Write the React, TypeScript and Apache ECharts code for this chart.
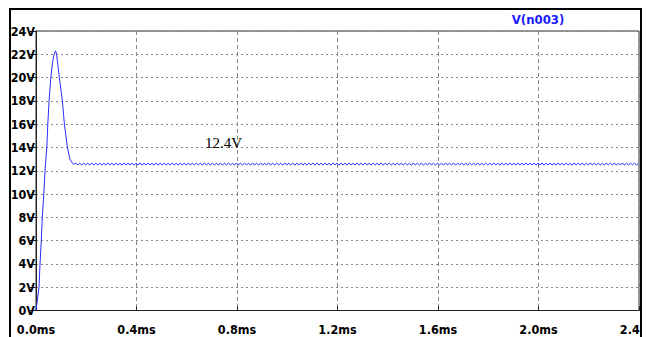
import React, { useEffect, useRef } from "react";
import * as echarts from "echarts";

// Transient: time (ms) and voltage (V)
const riseTimes = [0, 0.012, 0.016, 0.021, 0.025, 0.031, 0.036, 0.043, 0.047, 0.052, 0.059, 0.066, 0.072, 0.078];
const riseValues = [0, 2, 4, 6, 8, 10, 12, 14, 16, 18, 20, 21.3, 22, 22.3];
const fallTimes = [0.082, 0.093, 0.105, 0.113, 0.125, 0.135, 0.142, 0.15];
const fallValues = [22, 20, 18, 16, 14, 13, 12.75, 12.55];
// steady-state ripple samples, every 0.008 ms starting at 0.158 ms
const rippleStart = 0.158;
const rippleStep = 0.008;
const rippleValues = [
  12.67, 12.49, 12.65, 12.48, 12.66, 12.5, 12.64, 12.48, 12.67, 12.49, 12.65, 12.49, 12.66, 12.48, 12.64, 12.5, 12.67, 12.49, 12.65, 12.48,
  12.66, 12.49, 12.64, 12.48, 12.67, 12.49, 12.65, 12.5, 12.66, 12.47, 12.65, 12.49, 12.67, 12.48, 12.64, 12.49, 12.66, 12.5, 12.65, 12.48,
  12.67, 12.48, 12.65, 12.49, 12.66, 12.49, 12.64, 12.48, 12.67, 12.5, 12.65, 12.47, 12.66, 12.49, 12.65, 12.48, 12.67, 12.49, 12.64, 12.5,
  12.66, 12.49, 12.65, 12.48, 12.67, 12.5, 12.64, 12.49, 12.66, 12.48, 12.65, 12.49, 12.67, 12.47, 12.65, 12.5, 12.66, 12.49, 12.64, 12.48,
  12.67, 12.49, 12.65, 12.48, 12.66, 12.5, 12.64, 12.47, 12.67, 12.49, 12.65, 12.49, 12.66, 12.48, 12.64, 12.5, 12.67, 12.49, 12.65, 12.48,
  12.66, 12.49, 12.64, 12.48, 12.67, 12.49, 12.65, 12.5, 12.66, 12.47, 12.65, 12.49, 12.67, 12.48, 12.64, 12.49, 12.66, 12.5, 12.65, 12.48,
  12.67, 12.48, 12.65, 12.49, 12.66, 12.49, 12.64, 12.48, 12.67, 12.5, 12.65, 12.47, 12.66, 12.49, 12.65, 12.48, 12.67, 12.49, 12.64, 12.5,
  12.66, 12.49, 12.65, 12.48, 12.67, 12.5, 12.64, 12.49, 12.66, 12.48, 12.65, 12.49, 12.67, 12.47, 12.65, 12.5, 12.66, 12.49, 12.64, 12.48,
  12.67, 12.49, 12.65, 12.48, 12.66, 12.5, 12.64, 12.47, 12.67, 12.49, 12.65, 12.49, 12.66, 12.48, 12.64, 12.5, 12.67, 12.49, 12.65, 12.48,
  12.66, 12.49, 12.64, 12.48, 12.67, 12.49, 12.65, 12.5, 12.66, 12.47, 12.65, 12.49, 12.67, 12.48, 12.64, 12.49, 12.66, 12.5, 12.65, 12.48,
  12.67, 12.48, 12.65, 12.49, 12.66, 12.49, 12.64, 12.48, 12.67, 12.5, 12.65, 12.47, 12.66, 12.49, 12.65, 12.48, 12.67, 12.49, 12.64, 12.5,
  12.66, 12.49, 12.65, 12.48, 12.67, 12.5, 12.64, 12.49, 12.66, 12.48, 12.65, 12.49, 12.67, 12.47, 12.65, 12.5, 12.66, 12.49, 12.64, 12.48,
  12.67, 12.49, 12.65, 12.48, 12.66, 12.5, 12.64, 12.47, 12.67, 12.49, 12.65, 12.49, 12.66, 12.48, 12.64, 12.5, 12.67, 12.49, 12.65, 12.48,
  12.66, 12.49, 12.64, 12.48, 12.67, 12.49, 12.65, 12.5, 12.66, 12.47, 12.65, 12.49, 12.67, 12.48, 12.64, 12.49, 12.66, 12.5, 12.65, 12.48,
  12.66,
];
const seriesName = "V(n003)";
const annotation = "12.4V";

const FONT = "'Liberation Sans Narrow', 'DejaVu Sans Condensed', 'Arial Narrow', sans-serif";

export default function App() {
  const ref = useRef<HTMLDivElement>(null);
  useEffect(() => {
    document.body.style.margin = "0";
    const chart = echarts.init(ref.current!, null, { renderer: "svg" });
    const data: number[][] = [];
    riseTimes.forEach((t, i) => data.push([t, riseValues[i]]));
    fallTimes.forEach((t, i) => data.push([t, fallValues[i]]));
    rippleValues.forEach((v, i) => data.push([rippleStart + i * rippleStep, v]));

    chart.setOption({
      animation: false,
      backgroundColor: "#ffffff",
      grid: {
        left: 36,
        top: 31,
        width: 603,
        height: 279.5,
        show: true,
        borderColor: "#303030",
        borderWidth: 1,
        containLabel: false,
        outerBoundsMode: "none",
      },
      xAxis: {
        type: "value",
        min: 0,
        max: 2.4,
        interval: 0.4,
        axisLine: { show: true, lineStyle: { color: "#202020", width: 1 } },
        axisTick: { show: true, inside: true, length: 4, lineStyle: { color: "#202020" } },
        axisLabel: {
          margin: 12,
          color: "#000",
          fontFamily: FONT,
          fontSize: 12.5,
          fontWeight: "bold",
          formatter: (v: number) => v.toFixed(1) + "ms",
          showMaxLabel: true,
          hideOverlap: false,
        },
        splitLine: { show: true, lineStyle: { color: "#888", type: [4, 3], width: 1 } },
      },
      yAxis: {
        type: "value",
        min: 0,
        max: 24,
        interval: 2,
        axisLine: { show: true, lineStyle: { color: "#202020", width: 1 } },
        axisTick: { show: true, length: 6, lineStyle: { color: "#202020" } },
        axisLabel: {
          margin: 1,
          color: "#000",
          fontFamily: FONT,
          fontSize: 12.5,
          fontWeight: "bold",
          formatter: (v: number) => v + "V",
        },
        splitLine: { show: true, lineStyle: { color: "#888", type: [2, 3], width: 1 } },
      },
      series: [
        {
          name: seriesName,
          type: "line",
          data,
          showSymbol: false,
          lineStyle: { color: "#2a2aff", width: 1 },
        },
      ],
      graphic: [
        {
          type: "rect",
          z: 100,
          shape: { x: 642, y: 0, width: 10, height: 337 },
          style: { fill: "#ffffff" },
        },
        {
          type: "rect",
          z: 101,
          shape: { x: 10, y: 9, width: 631, height: 340 },
          style: { fill: "none", stroke: "#000", lineWidth: 2 },
        },
        {
          type: "text",
          z: 102,
          x: 538,
          y: 19,
          style: {
            text: seriesName,
            fill: "#1a1aff",
            font: "bold 13px " + FONT,
            textAlign: "center",
            textVerticalAlign: "middle",
          },
        },
        {
          type: "text",
          z: 102,
          x: 205,
          y: 143,
          style: {
            text: annotation,
            fill: "#000",
            font: "15px 'Liberation Serif', 'Times New Roman', serif",
            textAlign: "left",
            textVerticalAlign: "middle",
          },
        },
      ],
    });
    return () => chart.dispose();
  }, []);
  return <div ref={ref} style={{ width: 646, height: 337 }} />;
}
